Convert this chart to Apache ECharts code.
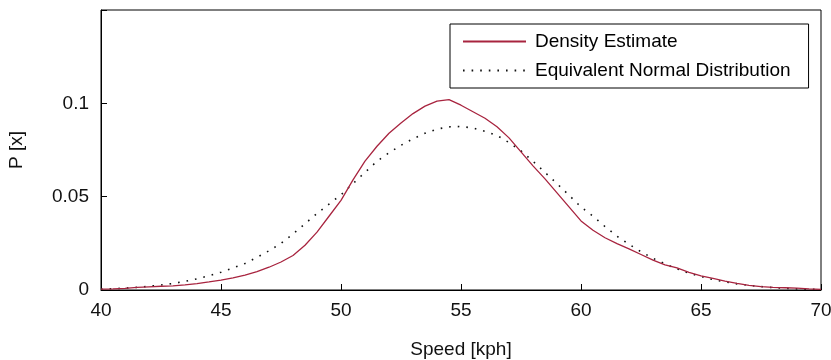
<!DOCTYPE html>
<html lang="en">
<head>
    <meta charset="UTF-8">
    <title>Speed density</title>
    <script src="https://cdn.jsdelivr.net/npm/echarts@6/dist/echarts.min.js"></script>
    <style>
        html, body { margin: 0; padding: 0; background: #fff; }
        #chart { width: 831px; height: 360px; }
    </style>
</head>
<body>
    <div id="chart"></div>
    <script>
        // speed samples (kph), every 0.5
        var speeds = [40, 40.5, 41, 41.5, 42, 42.5, 43, 43.5, 44, 44.5, 45, 45.5, 46, 46.5, 47, 47.5, 48, 48.5, 49, 49.5,
            50, 50.5, 51, 51.5, 52, 52.5, 53, 53.5, 54, 54.5, 55, 55.5, 56, 56.5, 57, 57.5, 58, 58.5, 59, 59.5,
            60, 60.5, 61, 61.5, 62, 62.5, 63, 63.5, 64, 64.5, 65, 65.5, 66, 66.5, 67, 67.5, 68, 68.5, 69, 69.5, 70];

        var densityEst = [0.0005, 0.0006, 0.0009, 0.0014, 0.0017, 0.0020, 0.0022, 0.0027, 0.0034, 0.0043,
            0.0053, 0.0065, 0.0080, 0.0098, 0.0122, 0.0150, 0.0185, 0.0240, 0.0310, 0.0395,
            0.0480, 0.0590, 0.0690, 0.0770, 0.0840, 0.0895, 0.0945, 0.0985, 0.1012, 0.1020,
            0.0990, 0.0955, 0.0920, 0.0875, 0.0815, 0.0740, 0.0665, 0.0595, 0.0520, 0.0445,
            0.0370, 0.0320, 0.0280, 0.0248, 0.0220, 0.0190, 0.0160, 0.0135, 0.0118, 0.0095,
            0.0076, 0.0062, 0.0048, 0.0035, 0.0025, 0.0018, 0.0014, 0.0012, 0.0010, 0.0006, 0.0003];

        var normalEq = [0.0005, 0.0007, 0.0010, 0.0014, 0.0020, 0.0027, 0.0035, 0.0046, 0.0060, 0.0076,
            0.0095, 0.0118, 0.0142, 0.0175, 0.0210, 0.0250, 0.0300, 0.0355, 0.0410, 0.0460,
            0.0510, 0.0570, 0.0630, 0.0690, 0.0735, 0.0775, 0.0810, 0.0840, 0.0862, 0.0874,
            0.0876, 0.0868, 0.0850, 0.0828, 0.0790, 0.0745, 0.0690, 0.0630, 0.0570, 0.0508,
            0.0445, 0.0395, 0.0340, 0.0288, 0.0245, 0.0205, 0.0170, 0.0140, 0.0113, 0.0090,
            0.0072, 0.0056, 0.0043, 0.0033, 0.0025, 0.0018, 0.0013, 0.0009, 0.0006, 0.0004, 0.0003];

        var seriesNames = ['Density Estimate', 'Equivalent Normal Distribution'];

        function pairs(ys) {
            var out = [];
            for (var i = 0; i < speeds.length; i++) out.push([speeds[i], ys[i]]);
            return out;
        }

        var font = 'Liberation Sans, Arial, sans-serif';
        var chart = echarts.init(document.getElementById('chart'));
        var option = {
            animation: false,
            backgroundColor: '#fff',
            grid: {
                left: 101, right: 10, top: 10, bottom: 70,
                outerBoundsMode: 'none',
                show: true, borderColor: '#000', borderWidth: 1
            },
            legend: {
                data: seriesNames,
                orient: 'vertical',
                left: 450,
                top: 24,
                padding: [8, 18, 8, 12],
                itemGap: 10,
                itemWidth: 63,
                itemHeight: 20,
                borderColor: '#000',
                borderWidth: 1,
                backgroundColor: '#fff',
                itemStyle: { opacity: 0 },
                textStyle: { fontFamily: font, fontSize: 19, color: '#000', padding: [0, 0, 0, 4] }
            },
            xAxis: {
                type: 'value',
                min: 40, max: 70, interval: 5,
                name: 'Speed [kph]',
                nameLocation: 'middle',
                nameGap: 50,
                nameTextStyle: { fontFamily: font, fontSize: 19, color: '#111' },
                axisLine: { lineStyle: { color: '#000', width: 1 } },
                axisTick: { inside: true, length: 6, lineStyle: { color: '#000' } },
                axisLabel: { fontFamily: font, fontSize: 19, color: '#111', margin: 11 },
                splitLine: { show: false }
            },
            yAxis: {
                type: 'value',
                min: 0, max: 0.15, interval: 0.05,
                name: 'P [x]',
                nameLocation: 'middle',
                nameGap: 75,
                nameTextStyle: { fontFamily: font, fontSize: 19, color: '#111' },
                axisLine: { show: true, lineStyle: { color: '#000', width: 1 } },
                axisTick: { inside: true, length: 6, lineStyle: { color: '#000' } },
                axisLabel: {
                    fontFamily: font, fontSize: 19, color: '#111', margin: 12,
                    formatter: function (v) {
                        if (v > 0.14) return '';
                        return String(Math.round(v * 100) / 100);
                    }
                },
                splitLine: { show: false }
            },
            series: [
                {
                    name: seriesNames[0],
                    type: 'line',
                    symbol: 'none',
                    data: pairs(densityEst),
                    lineStyle: { color: '#a8243f', width: 1.3 },
                    itemStyle: { color: '#a8243f' },
                    z: 3
                },
                {
                    name: seriesNames[1],
                    type: 'line',
                    symbol: 'none',
                    data: pairs(normalEq),
                    lineStyle: { color: '#111', width: 1.6, type: [1.6, 7] },
                    itemStyle: { color: '#111' },
                    z: 2
                }
            ]
        };
        chart.setOption(option);
    </script>
</body>
</html>
